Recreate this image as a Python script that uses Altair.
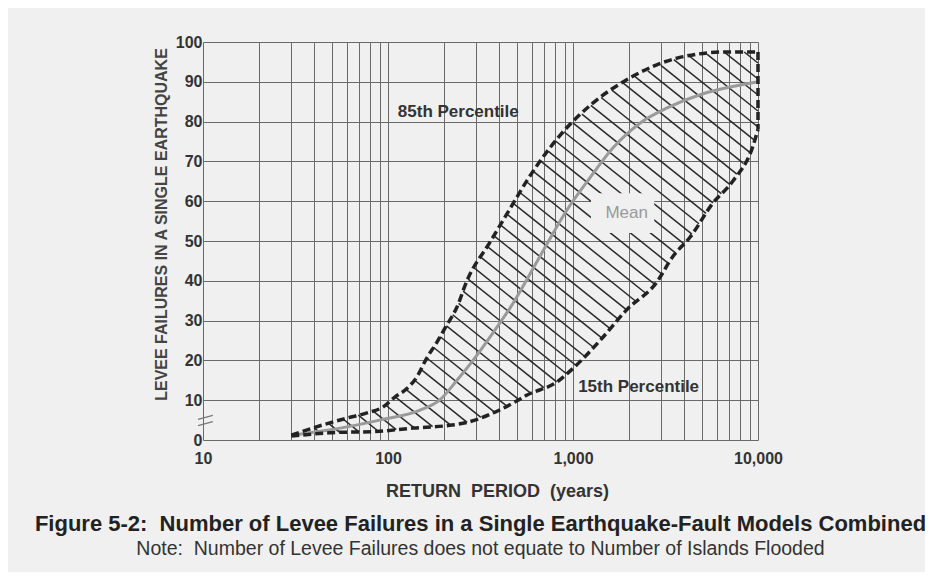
import altair as alt
import numpy as np
import pandas as pd

# ---- data ----
upper_x = [30, 44.5, 60, 77, 94, 109, 127, 143, 162, 184, 205, 236, 267, 356, 455, 566, 853, 1285, 1950, 3690, 6800, 10000]
upper_y = [1.2, 3.8, 5.5, 6.8, 8.3, 10.8, 13, 15.8, 20.6, 24.6, 28.4, 33.4, 40, 49.7, 58.0, 65.3, 76.6, 84.7, 90.5, 96, 97.5, 97.5]

lower_x = [30, 48, 90, 137, 208, 267, 370, 475, 565, 820, 1000, 1400, 1950, 2840, 3450, 4300, 5700, 7300, 9350, 10000]
lower_y = [1.0, 1.8, 2.2, 3.0, 3.6, 4.4, 6.8, 9.3, 11.3, 14.6, 18, 25, 32.7, 39.7, 46, 51, 59.5, 65, 73.6, 78]

mean_x = [30, 48, 90, 149, 190, 236, 288, 370, 460, 660, 927, 1240, 1660, 2300, 3250, 5050, 7650, 10000]
mean_y = [1.2, 2.5, 5, 7.5, 10, 15, 20, 27, 33.4, 46, 57.8, 66, 73.6, 79.6, 83.5, 87, 89, 90]

x_grid = [10, 20, 30, 40, 50, 60, 70, 80, 90, 100, 200, 300, 400, 500, 600, 700, 800, 900,
          1000, 2000, 3000, 4000, 5000, 6000, 7000, 8000, 9000, 10000]
x_labels = [10, 100, 1000, 10000]
y_ticks = [0, 10, 20, 30, 40, 50, 60, 70, 80, 90, 100]

labels = ["85th Percentile", "15th Percentile"]
label_x = [113, 1066]
label_y = [82.5, 13.3]

W, H = 555, 398

# ---- hatch lines derived from the band between the two percentile curves ----
dec = W / 3.0
upy = H / 100.0
Xu = dec * np.log10(np.array(upper_x) / 10.0); Yu = upy * np.array(upper_y)
Xl = dec * np.log10(np.array(lower_x) / 10.0); Yl = upy * np.array(lower_y)
Xs = np.linspace(Xu[0], W, 4000)
up = np.interp(Xs, Xu, Yu)
lo = np.interp(Xs, Xl, Yl)
m, step = 0.8, 16.0
rows = []
k = 0
for c in np.arange(5, 1500, step):
    line = c - m * Xs
    inside = (line <= up) & (line >= lo)
    if inside.any():
        idx = np.where(inside)[0]
        x0, x1 = Xs[idx[0]], Xs[idx[-1]]
        if x1 - x0 > 4:
            for Xp in (x0, x1):
                rows.append({"x": 10 * 10 ** (Xp / dec), "y": (c - m * Xp) / upy, "id": k})
            k += 1
hatch = pd.DataFrame(rows)

curves = pd.concat([
    pd.DataFrame({"x": upper_x, "y": upper_y, "s": "85th"}),
    pd.DataFrame({"x": lower_x, "y": lower_y, "s": "15th"}),
])
mean = pd.DataFrame({"x": mean_x, "y": mean_y})
edge = pd.DataFrame({"x": [upper_x[-1]], "y": [upper_y[-1]], "y2": [lower_y[-1]]})
lab = pd.DataFrame({"t": labels, "x": label_x, "y": label_y})
mean_lab = pd.DataFrame({"t": ["Mean"], "x": [1950], "y": [57], "x1": [1250], "x2": [2750], "y1": [52], "y2": [62]})
brk = pd.DataFrame({"x": [9.4, 9.4], "x2": [11.3, 11.3], "y": [3.6, 5.2], "y2": [4.6, 6.2]})

xs = alt.Scale(type="log", domain=[10, 10000], nice=False)
ys = alt.Scale(domain=[0, 100], nice=False)
FONT = "Liberation Sans"

xax = alt.Axis(values=x_grid, grid=True, ticks=False, domain=False,
               labelExpr="indexof([10,100,1000,10000], datum.value) >= 0 ? format(datum.value, ',') : ''",
               title="RETURN\u00a0\u00a0PERIOD\u00a0\u00a0(years)", titleFontSize=18, titleFontWeight="bold",
               titleColor="#333", titlePadding=16, titleX=294,
               labelFontSize=16, labelFontWeight="bold", labelColor="#333", labelPadding=10,
               labelFont=FONT, titleFont=FONT, labelFlush=False, labelOverlap=False)
yax = alt.Axis(values=y_ticks, grid=True, ticks=False, domain=False,
               title="LEVEE FAILURES IN A SINGLE EARTHQUAKE", titleFontSize=16,
               titleFontWeight="bold", titleColor="#444", titlePadding=6, titleY=182,
               labelFontSize=16, labelFontWeight="bold", labelColor="#333", labelPadding=1,
               labelFont=FONT, titleFont=FONT, labelOverlap=False)

X = alt.X("x:Q", scale=xs, axis=xax)
Y = alt.Y("y:Q", scale=ys, axis=yax)

base = alt.Chart(curves).mark_line(opacity=0).encode(x=X, y=Y)

hatch_l = alt.Chart(hatch).mark_line(color="#2a2a2a", strokeWidth=1.5).encode(
    x=X, y=Y, detail="id:N")

mean_bg = alt.Chart(mean_lab).mark_rect(color="#f0f0f0").encode(
    x=alt.X("x1:Q", scale=xs, axis=xax), x2="x2:Q", y=alt.Y("y1:Q", scale=ys, axis=yax), y2="y2:Q")

mean_l = alt.Chart(mean).mark_line(color="#9a9a9a", strokeWidth=3, interpolate="monotone").encode(
    x=X, y=Y)

band = alt.Chart(curves).mark_line(color="#222", strokeWidth=3.5, strokeDash=[8, 4],
                                   interpolate="monotone").encode(x=X, y=Y, detail="s:N")

edge_l = alt.Chart(edge).mark_rule(color="#222", strokeWidth=3.5, strokeDash=[8, 4]).encode(
    x=X, y=Y, y2="y2:Q")

texts = alt.Chart(lab).mark_text(align="left", baseline="middle", font=FONT, fontSize=17,
                                 fontWeight="bold", color="#333").encode(x=X, y=Y, text="t:N")

mean_t = alt.Chart(mean_lab).mark_text(align="center", baseline="middle", font=FONT, fontSize=17,
                                       color="#999").encode(x=X, y=Y, text="t:N")

brk_l = alt.Chart(brk).mark_rule(color="#777", strokeWidth=1.2).encode(
    x=X, x2="x2:Q", y=Y, y2="y2:Q")

chart = alt.layer(base, hatch_l, mean_bg, mean_l, band, edge_l, texts, mean_t, brk_l).properties(
    width=W, height=H,
    title=alt.TitleParams(
        text="Figure 5-2:\u00a0 Number of Levee Failures in a Single Earthquake-Fault Models Combined",
        subtitle="Note:\u00a0 Number of Levee Failures does not equate to Number of Islands Flooded",
        orient="bottom", anchor="middle", font=FONT, fontSize=22, fontWeight="bold",
        color="#222", subtitleFont=FONT, subtitleFontSize=19.5, subtitleColor="#333",
        offset=14, subtitlePadding=4),
    autosize=alt.AutoSizeParams(type="none"),
    padding={"left": 195, "top": 34, "right": 167, "bottom": 132},
    background="#f0f0f0",
).configure_view(stroke=None).configure_axis(gridColor="#6a6a6a", gridWidth=1, gridOpacity=1)

chart.save("out.html", embed_options={"renderer": "svg", "actions": False})
